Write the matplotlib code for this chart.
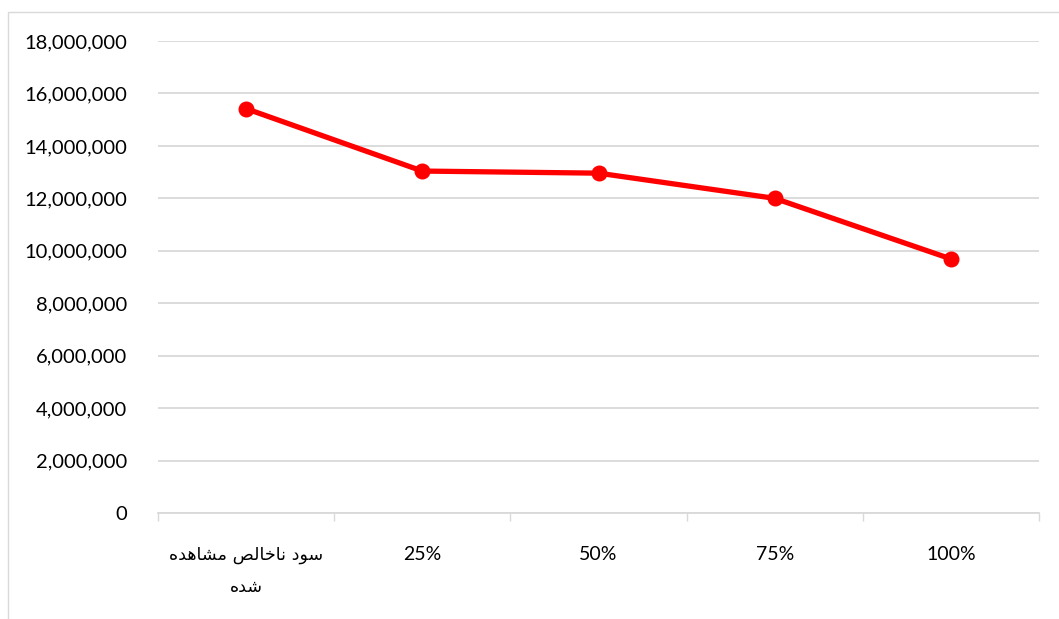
import matplotlib
matplotlib.use("Agg")
import matplotlib.pyplot as plt
from matplotlib.patches import Rectangle

# Data
categories_fa = ["سود ناخالص مشاهده شده", "25%", "50%", "75%", "100%"]
values = [15420000, 13040000, 12960000, 12000000, 9690000]
yticks = list(range(0, 18000001, 2000000))

# Manual Arabic shaping (presentation forms), visual order for LTR rendering
def shaped(words):
    return " ".join("".join(reversed(w)) for w in reversed(words))

line1 = shaped([
    ["\uFEB3", "\uFEEE", "\uFEA9"],                                  # سود
    ["\uFEE7", "\uFE8E", "\uFEA7", "\uFE8E", "\uFEDF", "\uFEBA"],    # ناخالص
    ["\uFEE3", "\uFEB8", "\uFE8E", "\uFEEB", "\uFEAA", "\uFEE9"],    # مشاهده
])
line2 = shaped([["\uFEB7", "\uFEAA", "\uFEE9"]])                      # شده
display_labels = [line1 + "\n" + line2] + categories_fa[1:]

plt.rcParams['font.family'] = ['Lato', 'DejaVu Sans']

fig = plt.figure(figsize=(10.59, 6.19), dpi=100)
fig.patches.append(Rectangle((8/1059, -0.1), 1.2, 1 - 12/619 + 0.1,
                             transform=fig.transFigure, fill=False,
                             edgecolor="#d9d9d9", linewidth=1.0))
ax = fig.add_axes([158/1059, 1 - 513/619, (1039-158)/1059, (513-41)/619])

x = list(range(len(values)))
ax.plot(x, values, color="#ff0000", linewidth=3.8, marker="o",
        markersize=10.5, solid_capstyle="round", zorder=3)

ax.set_xlim(-0.5, len(values) - 0.5)
ax.set_ylim(0, 18000000)
ax.set_yticks(yticks)
ax.set_yticklabels([f"{v:,}" for v in yticks])
ax.yaxis.grid(True, color="#d9d9d9", linewidth=1.3)
ax.set_axisbelow(True)

ax.set_xticks(x)
ax.set_xticklabels(display_labels)
ax.set_xticks([i - 0.5 for i in range(len(values) + 1)], minor=True)
ax.tick_params(axis="x", which="major", length=0, pad=24, labelsize=14, colors="#000000")
ax.tick_params(axis="x", which="minor", length=6, width=1.0, color="#d9d9d9")
ax.tick_params(axis="y", length=0, pad=22, labelsize=14.5)
for lbl in ax.get_xticklabels():
    lbl.set_linespacing(2.0)
    lbl.set_multialignment("center")
ax.get_xticklabels()[0].set_family(['DejaVu Sans'])
ax.get_xticklabels()[0].set_fontsize(12.6)

for s in ["top", "right", "left"]:
    ax.spines[s].set_visible(False)
ax.spines["bottom"].set_color("#d9d9d9")
ax.spines["bottom"].set_linewidth(1.3)

fig.savefig("out.png", dpi=100)
